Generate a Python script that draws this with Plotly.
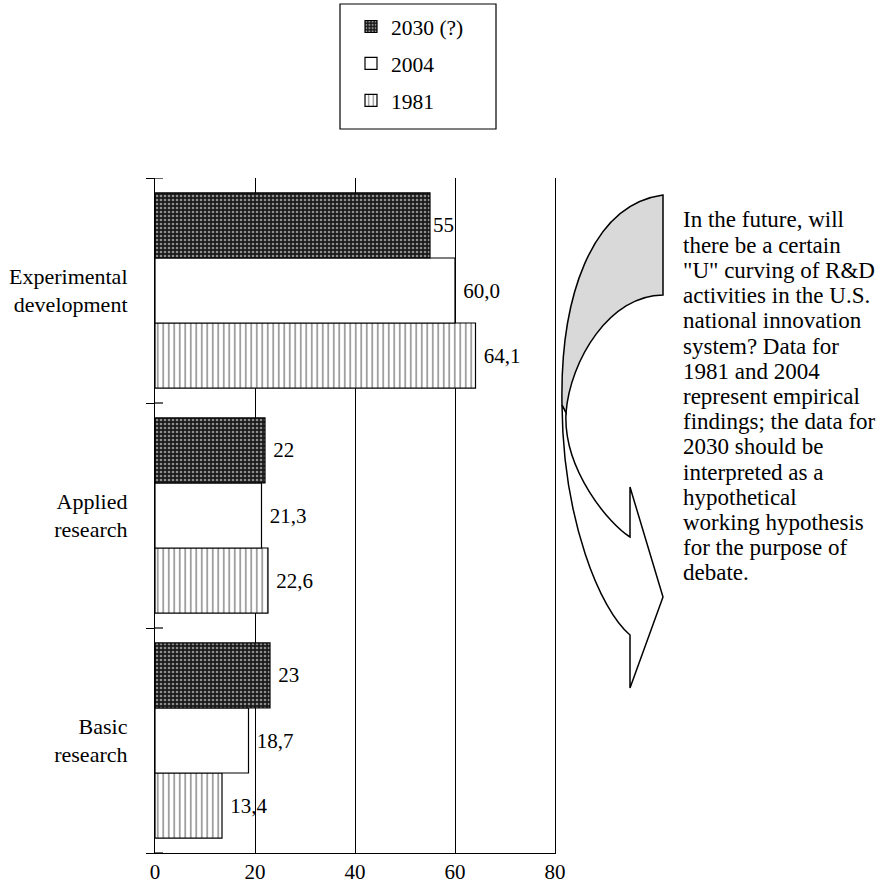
import plotly.graph_objects as go

# ---- data ----
categories = ["Basic<br>research", "Applied<br>research", "Experimental<br>development"]
years = ["1981", "2004", "2030 (?)"]
values_1981 = [13.4, 22.6, 64.1]
values_2004 = [18.7, 21.3, 60.0]
values_2030 = [23, 22, 55]
labels_1981 = ["13,4", "22,6", "64,1"]
labels_2004 = ["18,7", "21,3", "60,0"]
labels_2030 = ["23", "22", "55"]
x_ticks = [0, 20, 40, 60, 80]
note_lines = [
    "In the future, will",
    "there be a certain",
    "\"U\" curving of R&D",
    "activities in the U.S.",
    "national innovation",
    "system? Data for",
    "1981 and 2004",
    "represent empirical",
    "findings; the data for",
    "2030 should be",
    "interpreted as a",
    "hypothetical",
    "working hypothesis",
    "for the purpose of",
    "debate.",
]

FONT = "Liberation Serif, Times New Roman, Tinos, serif"
W, H = 883, 887
L, R, T, B = 155, 555, 178, 853


def px(x, y):
    """pixel -> paper coordinates"""
    return (x - L) / (R - L), (B - y) / (B - T)


def path(cmds):
    out = []
    for c in cmds:
        if isinstance(c, str):
            out.append(c)
        else:
            a, b = px(*c)
            out.append(f"{a:.5f},{b:.5f}")
    return " ".join(out)


fig = go.Figure()

styles = [
    (values_1981, labels_1981, years[0], 3,
     dict(color="white", line=dict(color="black", width=1.2),
          pattern=dict(shape="|", fgcolor="black", bgcolor="white", size=5.5, solidity=0.25))),
    (values_2004, labels_2004, years[1], 2,
     dict(color="white", line=dict(color="black", width=1.2))),
    (values_2030, labels_2030, years[2], 1,
     dict(color="#1a1a1a", line=dict(color="black", width=1.2),
          pattern=dict(shape=".", fgcolor="white", bgcolor="#1a1a1a", size=4, solidity=0.35))),
]
for vals, labs, name, rank, marker in styles:
    fig.add_trace(go.Bar(
        y=categories, x=vals, orientation="h", name=name,
        text=[("" if l == "55" else "\u00a0") + l for l in labs],
        textposition="outside", cliponaxis=False,
        textfont=dict(family=FONT, size=21, color="black"),
        marker=marker, legendgroup=name, legendrank=rank,
    ))

fig.update_layout(
    width=W, height=H,
    margin=dict(l=L, r=W - R, t=T, b=H - B, pad=0, autoexpand=False),
    paper_bgcolor="white", plot_bgcolor="white",
    barmode="group", bargap=0.133, bargroupgap=0,
    font=dict(family=FONT, size=21, color="black"),
    showlegend=True,
    legend=dict(
        x=px(351, 0)[0], y=px(0, 6)[1], xanchor="left", yanchor="top",
        traceorder="grouped", tracegroupgap=6,
        bgcolor="rgba(0,0,0,0)", borderwidth=0,
        font=dict(family=FONT, size=21.5, color="black"),
    ),
    xaxis=dict(
        range=[0, 80], tickvals=x_ticks, showgrid=True, gridcolor="black", gridwidth=1,
        zeroline=False, showline=True, linecolor="black", linewidth=1.2, ticks="",
        automargin=False,
        tickfont=dict(family=FONT, size=21, color="black"),
    ),
    yaxis=dict(
        type="category", categoryorder="array", categoryarray=categories,
        range=[-0.5, 2.5], showgrid=False, zeroline=False,
        showline=True, mirror=True, linecolor="black", linewidth=1.2,
        ticks="outside", tickson="boundaries", ticklen=8, tickcolor="black", tickwidth=1.2,
        ticklabelstandoff=22, automargin=False,
        tickfont=dict(family=FONT, size=22, color="black"),
    ),
)

# inner halves of the crossing category ticks
for yb in [-0.5, 0.5, 1.5, 2.5]:
    fig.add_shape(type="line", xref="x domain", yref="y", x0=0, x1=0.02, y0=yb, y1=yb,
                  line=dict(color="black", width=1.2))

# legend box
x0, y0 = px(340, 129)
x1, y1 = px(496, 4)
fig.add_shape(type="rect", xref="paper", yref="paper", x0=x0, y0=y0, x1=x1, y1=y1,
              line=dict(color="black", width=1.2), fillcolor="rgba(0,0,0,0)", layer="below")

# curved arrow: shaded back part
shade = path(["M", (663, 195), "C", (590, 205), (560, 300), (562, 405),
              "L", (566, 413), "C", (570, 360), (610, 295), (663, 295), "Z"])
fig.add_shape(type="path", xref="paper", yref="paper", path=shade,
              fillcolor="#d9d9d9", line=dict(color="black", width=1.5))
# white front part with arrow head
front = path(["M", (566, 413), "C", (563, 470), (610, 525), (630, 537),
              "L", (630, 487), "L", (663, 597), "L", (630, 688), "L", (630, 635),
              "C", (600, 610), (563, 520), (562, 405), "Z"])
fig.add_shape(type="path", xref="paper", yref="paper", path=front,
              fillcolor="white", line=dict(color="black", width=1.5))

# note text
for i, line in enumerate(note_lines):
    ax, ay = px(681, 220 + i * 25.2)
    fig.add_annotation(x=ax, y=ay, xref="paper", yref="paper", text=line,
                       showarrow=False, xanchor="left", yanchor="middle", align="left",
                       font=dict(family=FONT, size=23, color="black"))

fig.write_html("out.html", config={"displayModeBar": False},
               post_script="document.body.style.margin='0px';")
